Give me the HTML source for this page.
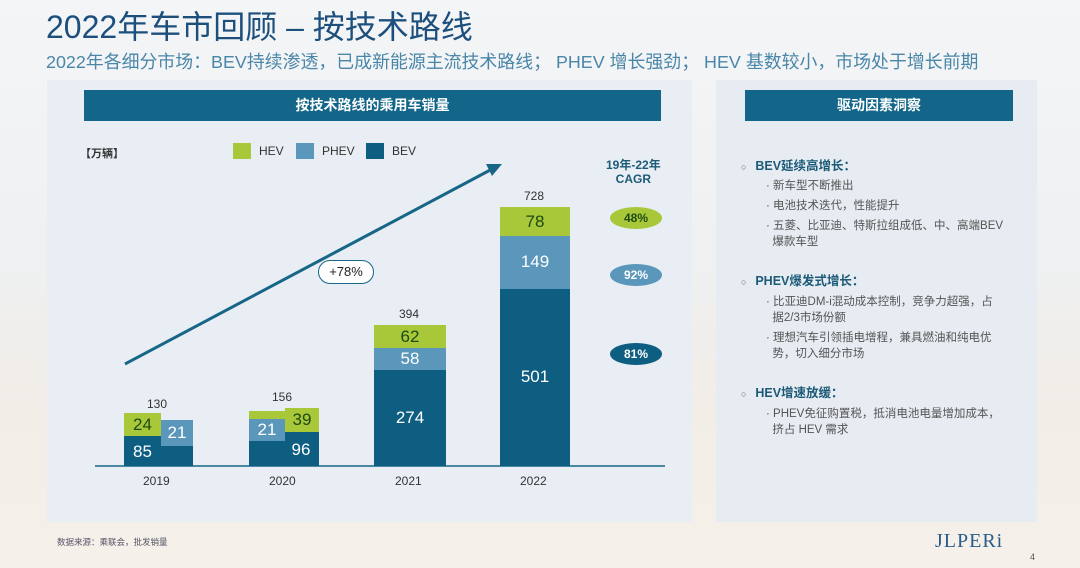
<!DOCTYPE html><html><head><meta charset="utf-8"><style>
*{margin:0;padding:0;box-sizing:border-box}
body{width:1080px;height:568px;overflow:hidden;position:relative;font-family:"Liberation Sans","Noto Sans CJK SC",sans-serif;background:linear-gradient(180deg,#f3f5f7 0%,#eef0f2 45%,#f2ede7 72%,#f6f0ea 100%)}
.a{position:absolute}
.t{position:absolute;white-space:nowrap}
.hb{background:#13668a;color:#fff;font-weight:bold;font-size:14px;text-align:center}
.bar{position:absolute}
.B{background:#0d5e80}.P{background:#5a97ba}.H{background:#a8c83a}
.n{position:absolute;color:#fff;font-size:17px;text-align:center;width:100%}
.ov{position:absolute;border-radius:50%;color:#fff;font-size:12px;font-weight:bold;text-align:center;line-height:22px;width:52px;height:22px}
.r{font-size:11.5px;color:#555;line-height:16px}
.r div{margin-bottom:4px}
.h3{font-size:12.5px;font-weight:bold;color:#1c5a78}
</style></head><body>
<div class="t" style="left:46px;top:2px;font-size:32px;color:#1d4f7c">2022年车市回顾 – 按技术路线</div>
<div class="t" style="left:46px;top:48px;font-size:17.9px;color:#4a86a8">2022年各细分市场：BEV持续渗透，已成新能源主流技术路线； PHEV 增长强劲； HEV 基数较小，市场处于增长前期</div>
<div class="a" style="left:47px;top:80px;width:645px;height:442px;background:#e8eef3"></div>
<div class="a" style="left:716px;top:80px;width:321px;height:442px;background:#e6ecf1"></div>
<div class="a hb" style="left:84px;top:90px;width:577px;height:31px;line-height:31px">按技术路线的乘用车销量</div>
<div class="a hb" style="left:745px;top:90px;width:268px;height:31px;line-height:31px">驱动因素洞察</div>
<div class="t" style="left:80px;top:145px;font-size:11px;font-weight:bold;color:#333">【万辆】</div>
<div class="a H" style="left:233px;top:143px;width:18px;height:16px"></div><div class="t" style="left:259px;top:144px;font-size:12px;color:#333">HEV</div>
<div class="a P" style="left:296px;top:143px;width:18px;height:16px"></div><div class="t" style="left:322px;top:144px;font-size:12px;color:#333">PHEV</div>
<div class="a B" style="left:366px;top:143px;width:18px;height:16px"></div><div class="t" style="left:392px;top:144px;font-size:12px;color:#333">BEV</div>
<svg class="a" style="left:0;top:0" width="700" height="520"><line x1="125" y1="364" x2="494" y2="168" stroke="#176687" stroke-width="3"/><polygon points="502,164 486,164 492,176" fill="#176687"/><line x1="95" y1="466" x2="665" y2="466" stroke="#176687" stroke-width="1.5"/></svg>
<div class="t" style="left:318px;top:260px;width:56px;height:24px;border:1.5px solid #176687;border-radius:12px;background:#fff;font-size:13px;text-align:center;line-height:21px;color:#222">+78%</div>
<div class="bar B" style="left:124px;top:436px;width:69px;height:30px"><div class="n" style="top:6px;left:-16px">85</div></div>
<div class="bar P" style="left:161px;top:420px;width:32px;height:26px"><div class="n" style="top:3px">21</div></div>
<div class="bar H" style="left:124px;top:413px;width:37px;height:23px"><div class="n" style="top:2px;color:#1e4a14">24</div></div>
<div class="t" style="left:147px;top:397px;font-size:12px;color:#333">130</div>
<div class="bar B" style="left:249px;top:432px;width:70px;height:34px"><div class="n" style="top:8px;left:17px">96</div></div>
<div class="bar H" style="left:249px;top:411px;width:70px;height:21px"></div>
<div class="bar P" style="left:249px;top:419px;width:36px;height:22px"><div class="n" style="top:1px">21</div></div>
<div class="bar H" style="left:285px;top:408px;width:34px;height:24px"><div class="n" style="top:2px;color:#1e4a14">39</div></div>
<div class="t" style="left:272px;top:390px;font-size:12px;color:#333">156</div>
<div class="bar B" style="left:374px;top:370px;width:72px;height:96px"><div class="n" style="top:38px">274</div></div>
<div class="bar P" style="left:374px;top:348px;width:72px;height:22px"><div class="n" style="top:1px">58</div></div>
<div class="bar H" style="left:374px;top:325px;width:72px;height:23px"><div class="n" style="top:2px;color:#1e4a14">62</div></div>
<div class="t" style="left:399px;top:307px;font-size:12px;color:#333">394</div>
<div class="bar B" style="left:500px;top:289px;width:70px;height:177px"><div class="n" style="top:78px">501</div></div>
<div class="bar P" style="left:500px;top:236px;width:70px;height:53px"><div class="n" style="top:16px">149</div></div>
<div class="bar H" style="left:500px;top:207px;width:70px;height:29px"><div class="n" style="top:5px;color:#1e4a14">78</div></div>
<div class="t" style="left:524px;top:189px;font-size:12px;color:#333">728</div>
<div class="t" style="left:143px;top:474px;font-size:12px;color:#333">2019</div>
<div class="t" style="left:269px;top:474px;font-size:12px;color:#333">2020</div>
<div class="t" style="left:395px;top:474px;font-size:12px;color:#333">2021</div>
<div class="t" style="left:520px;top:474px;font-size:12px;color:#333">2022</div>
<div class="t" style="left:606px;top:158px;font-size:12px;font-weight:bold;color:#1c5a78;text-align:center;line-height:14px">19年-22年<br>CAGR</div>
<div class="ov" style="left:610px;top:207px;background:#a8c83a;color:#1e4a14">48%</div>
<div class="ov" style="left:610px;top:264px;background:#5a97ba">92%</div>
<div class="ov" style="left:610px;top:343px;background:#0d5e80">81%</div>
<div class="t" style="left:741px;top:155px"><span style="font-size:9px;color:#555">○</span>&nbsp;&nbsp;<span class="h3">BEV延续高增长：</span></div>
<div class="a r" style="left:766px;top:178px;width:260px"><div>· 新车型不断推出</div><div>· 电池技术迭代，性能提升</div><div>· 五菱、比亚迪、特斯拉组成低、中、高端BEV<br>&nbsp;&nbsp;爆款车型</div></div>
<div class="t" style="left:741px;top:270px"><span style="font-size:9px;color:#555">○</span>&nbsp;&nbsp;<span class="h3">PHEV爆发式增长：</span></div>
<div class="a r" style="left:766px;top:294px;width:260px"><div>· 比亚迪DM-i混动成本控制，竞争力超强，占<br>&nbsp;&nbsp;据2/3市场份额</div><div>· 理想汽车引领插电增程，兼具燃油和纯电优<br>&nbsp;&nbsp;势，切入细分市场</div></div>
<div class="t" style="left:741px;top:382px"><span style="font-size:9px;color:#555">○</span>&nbsp;&nbsp;<span class="h3">HEV增速放缓：</span></div>
<div class="a r" style="left:766px;top:406px;width:260px"><div>· PHEV免征购置税，抵消电池电量增加成本，<br>&nbsp;&nbsp;挤占 HEV 需求</div></div>
<div class="t" style="left:57px;top:536px;font-size:8.5px;color:#556">数据来源：乘联会，批发销量</div>
<div class="t" style="left:935px;top:530px;font-size:20px;color:#2a5c8a;letter-spacing:1px;font-family:'Liberation Serif',serif">JLPERi</div>
<div class="t" style="left:1030px;top:552px;font-size:9px;color:#555">4</div>
</body></html>
